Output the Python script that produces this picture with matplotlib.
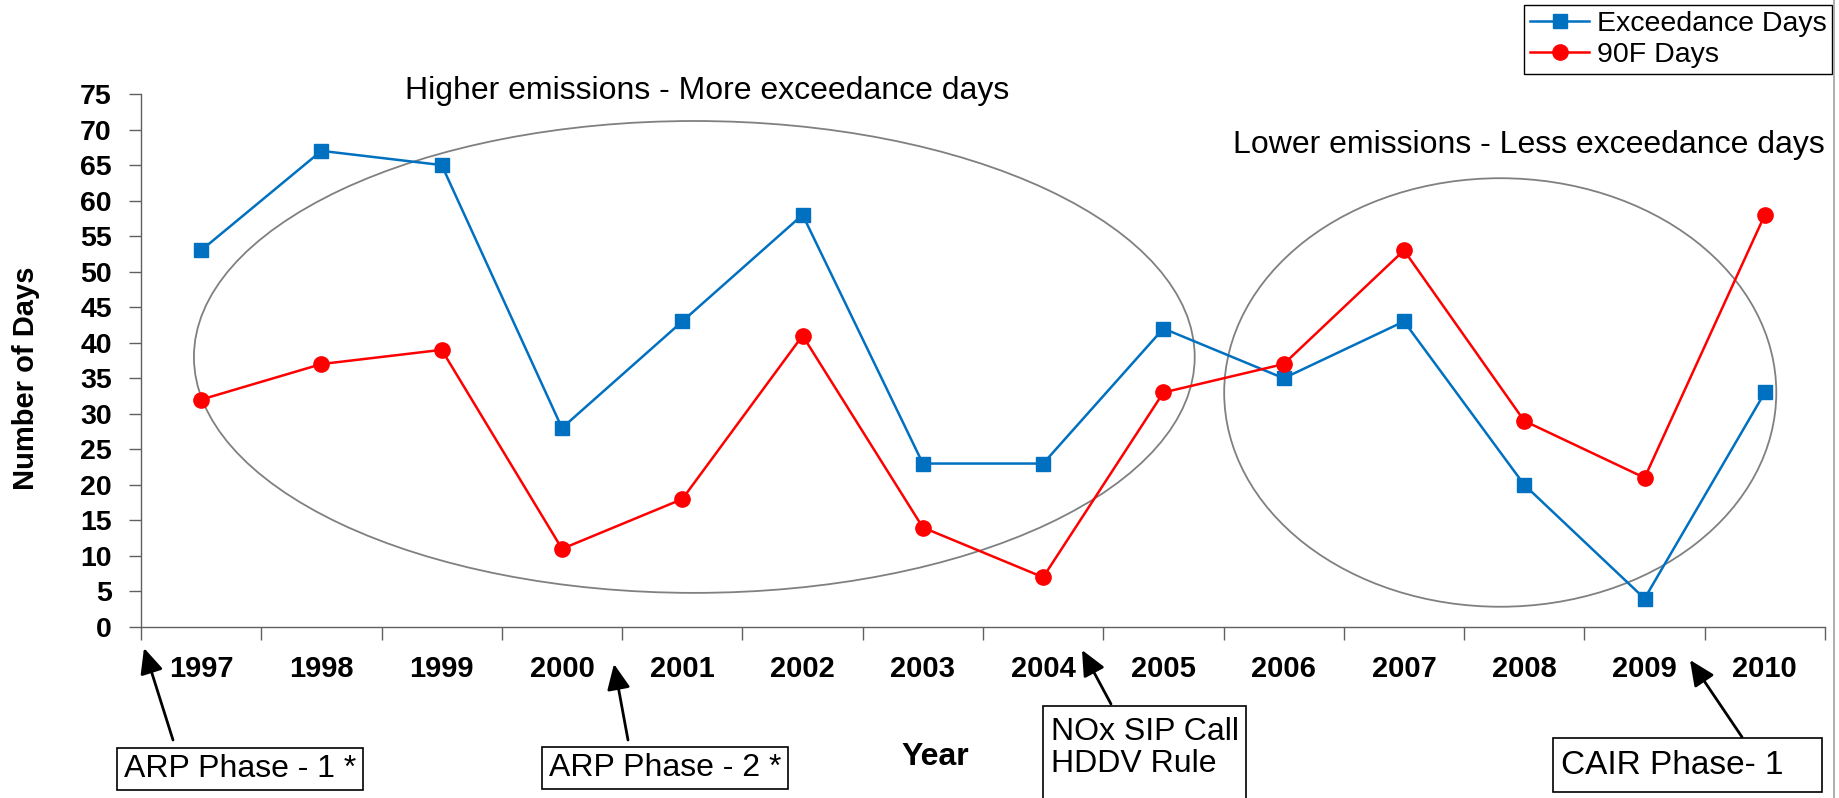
import matplotlib
matplotlib.use('Agg')
import matplotlib.pyplot as plt
from matplotlib.patches import Ellipse, Rectangle
from matplotlib.lines import Line2D
import numpy as np

# ---- data ----
years = ['1997', '1998', '1999', '2000', '2001', '2002', '2003',
         '2004', '2005', '2006', '2007', '2008', '2009', '2010']
exceedance_days = [53, 67, 65, 28, 43, 58, 23, 23, 42, 35, 43, 20, 4, 33]
f90_days = [32, 37, 39, 11, 18, 41, 14, 7, 33, 37, 53, 29, 21, 58]
y_ticks = [0, 5, 10, 15, 20, 25, 30, 35, 40, 45, 50, 55, 60, 65, 70, 75]
series_labels = ['Exceedance Days', '90F Days']

plt.rcParams['font.family'] = ['Liberation Sans', 'DejaVu Sans']

W, H = 1839, 798
fig = plt.figure(figsize=(W / 100, H / 100), dpi=100)


def fx(px):
    return px / W


def fy(py):
    return 1 - py / H


ax = fig.add_axes([fx(141), fy(627), (1825 - 141) / W, (627 - 94) / H])
x = np.arange(len(years))

ax.plot(x, exceedance_days, color='#0070C0', lw=1.8, marker='s', ms=10.5, mew=1,
        label=series_labels[0], clip_on=False, zorder=4)
ax.plot(x, f90_days, color='#FF0000', lw=1.8, marker='o', ms=11, mew=1,
        label=series_labels[1], clip_on=False, zorder=4)

ax.set_xlim(-0.5, len(years) - 0.5)
ax.set_ylim(0, 75)

# x: ticks on category boundaries, labels centred on categories
ax.set_xticks(np.arange(len(years) + 1) - 0.5)
ax.set_xticklabels([])
ax.set_xticks(x, minor=True)
ax.set_xticklabels(years, minor=True, fontsize=21, fontweight='bold')
ax.tick_params(axis='x', which='major', length=9, width=1, direction='out', color='#606060')
ax.tick_params(axis='x', which='minor', length=0, pad=20)

ax.set_yticks(y_ticks)
ax.set_yticklabels([str(v) for v in y_ticks], fontsize=20.5, fontweight='bold')
ax.tick_params(axis='y', length=9, width=1, direction='out', color='#606060', pad=12)

for s in ['top', 'right']:
    ax.spines[s].set_visible(False)
for s in ['left', 'bottom']:
    ax.spines[s].set_color('#606060')
    ax.spines[s].set_linewidth(1.0)

# ellipses
ax.add_patch(Ellipse((4.1, 38), 8.32, 66.4, fill=False, ec='#808080', lw=1.3, zorder=2))
ax.add_patch(Ellipse((10.8, 33), 4.59, 60.3, fill=False, ec='#808080', lw=1.3, zorder=2))

# legend
leg = ax.legend(loc='upper right', bbox_to_anchor=(fx(1832), fy(5)),
                bbox_transform=fig.transFigure, fontsize=20.5, frameon=True,
                fancybox=False, edgecolor='black', framealpha=1, borderaxespad=0,
                handlelength=2.1, handletextpad=0.25, labelspacing=0.2, borderpad=0.2)
leg.get_frame().set_linewidth(1.0)

# headings
fig.text(fx(707), fy(91), 'Higher emissions - More exceedance days',
         ha='center', va='center', fontsize=23)
fig.text(fx(1529), fy(145), 'Lower emissions - Less exceedance days',
         ha='center', va='center', fontsize=23)

# axis labels
fig.text(fx(26), fy(378), 'Number of Days', rotation=90, ha='center', va='center',
         fontsize=21, fontweight='bold')
fig.text(fx(935), fy(757), 'Year', ha='center', va='center', fontsize=23, fontweight='bold')

# annotation boxes
box = dict(boxstyle='square,pad=0.2', fc='white', ec='black', lw=1.2)
fig.text(fx(240), fy(769), 'ARP Phase - 1 *', ha='center', va='center', fontsize=23, bbox=box)
fig.text(fx(665), fy(768), 'ARP Phase - 2 *', ha='center', va='center', fontsize=23, bbox=box)

# CAIR box
fig.add_artist(Rectangle((fx(1553), fy(792)), (1822 - 1553) / W, (792 - 738) / H,
                         transform=fig.transFigure, fill=False, ec='black', lw=1.2))
fig.text(fx(1561), fy(766), 'CAIR Phase- 1', ha='left', va='center', fontsize=24)

# NOx box (runs off the bottom edge)
fig.add_artist(Rectangle((fx(1043), -0.05), 203 / W, (798 - 706) / H + 0.05,
                         transform=fig.transFigure, fill=False, ec='black', lw=1.2,
                         clip_on=False))
fig.text(fx(1051), fy(732), 'NOx SIP Call', ha='left', va='center', fontsize=23)
fig.text(fx(1051), fy(764), 'HDDV Rule', ha='left', va='center', fontsize=23)

# arrows (tail -> tip)
arrows = [((173, 740), (144, 648)),
          ((628, 740), (614, 664)),
          ((1111, 704), (1082, 650)),
          ((1742, 737), (1690, 660))]
for tail, tip in arrows:
    ax.annotate('', xy=(fx(tip[0]), fy(tip[1])), xycoords='figure fraction',
                xytext=(fx(tail[0]), fy(tail[1])), textcoords='figure fraction',
                arrowprops=dict(arrowstyle='-|>,head_length=0.7,head_width=0.32',
                                mutation_scale=22, color='black', lw=2,
                                shrinkA=0, shrinkB=0),
                annotation_clip=False)

# right border of chart area
fig.add_artist(Line2D([fx(1834), fx(1834)], [0, 1], transform=fig.transFigure,
                      color='#a0a0a0', lw=1.2))

fig.savefig('out.png', dpi=100)
